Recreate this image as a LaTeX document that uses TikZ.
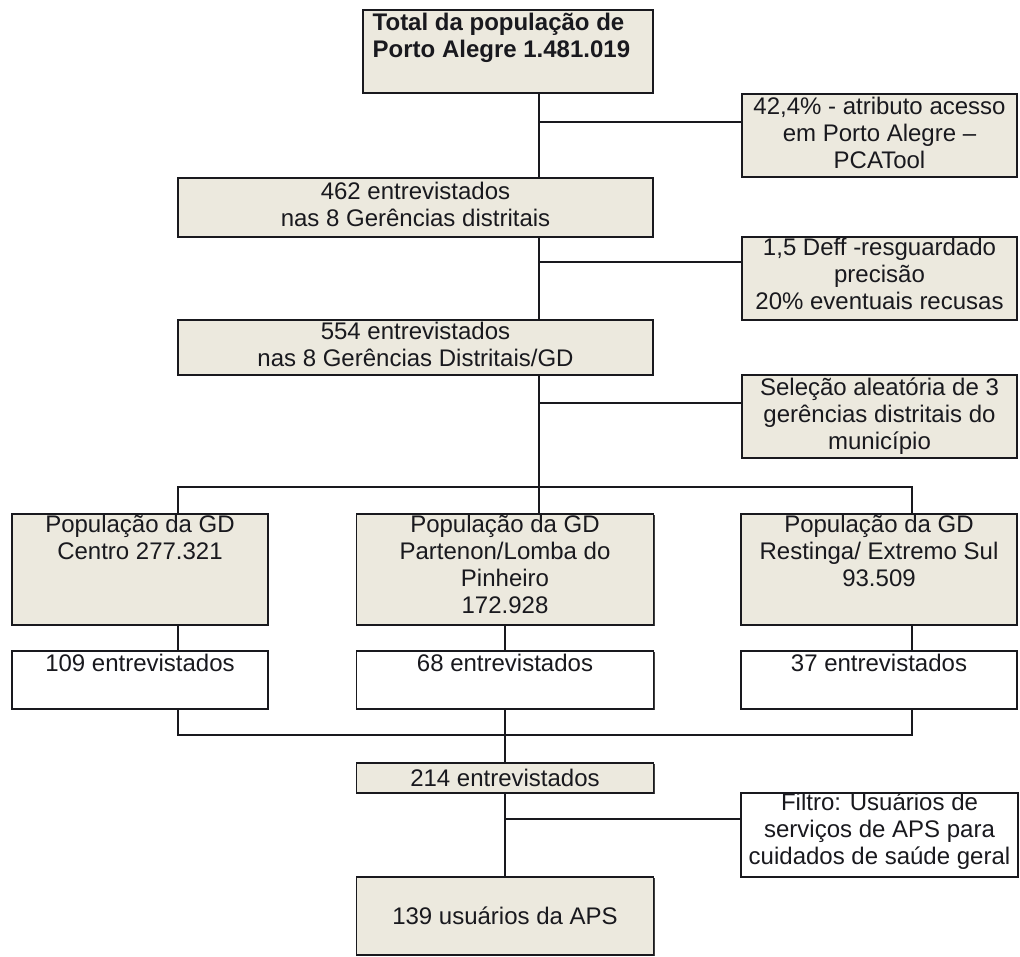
\documentclass[tikz,border=0pt]{standalone}
\usepackage{fontspec}
\setmainfont{Liberation Sans}
\usetikzlibrary{shadows}
\definecolor{boxfill}{RGB}{236,233,222}
\definecolor{ink}{RGB}{25,25,30}
\begin{document}
\begin{tikzpicture}[x=1pt,y=-1pt,
  box/.style={draw=ink, line width=1.3pt, fill=boxfill, inner sep=0pt, outer sep=0pt,
    drop shadow={shadow xshift=1.1pt, shadow yshift=-1.1pt, fill=black!75, opacity=1}},
  wbox/.style={box, fill=white},
  txt/.style={font=\fontsize{24}{27}\selectfont, text=ink, align=center, inner sep=2.5pt,
    execute at begin node={\strut}},
  conn/.style={draw=ink, line width=1.3pt}]
\useasboundingbox (0,0) rectangle (1020,956);

% boxes
\node[box, minimum width=290pt, minimum height=83pt,
  label={[txt, align=left, anchor=north west, xshift=7pt, font=\fontsize{24}{27}\selectfont\bfseries]north west:{Total da população de\\Porto Alegre 1.481.019}}]
  (top) at (508,51.5) {};
\node[box, minimum width=275pt, minimum height=83pt,
  label={[txt, anchor=north]north:{42,4\% - atributo acesso\\em Porto Alegre –\\PCATool}}]
  (acc) at (879.5,135.5) {};
\node[box, minimum width=475pt, minimum height=59pt,
  label={[txt, anchor=north, inner sep=3.5pt]north:{462 entrevistados\\nas 8 Gerências distritais}}]
  (g462) at (415.5,207.5) {};
\node[box, minimum width=275pt, minimum height=83pt,
  label={[txt, anchor=north, inner sep=1pt]north:{1,5 Deff -resguardado\\precisão\\20\% eventuais recusas}}]
  (deff) at (879.5,278.5) {};
\node[box, minimum width=475pt, minimum height=55pt,
  label={[txt, anchor=north, inner sep=1.5pt]north:{554 entrevistados\\nas 8 Gerências Distritais/GD}}]
  (g554) at (415.5,347.5) {};
\node[box, minimum width=275pt, minimum height=83pt,
  label={[txt, anchor=north]north:{Seleção aleatória de 3\\gerências distritais do\\município}}]
  (sel) at (879.5,416.5) {};

\node[box, minimum width=256pt, minimum height=111pt,
  label={[txt, anchor=north, inner sep=1pt]north:{População da GD\\Centro 277.321}}]
  (cen) at (140,569.5) {};
\node[box, minimum width=297pt, minimum height=111pt,
  label={[txt, anchor=north, inner sep=1pt]north:{População da GD\\Partenon/Lomba do\\Pinheiro\\172.928}}]
  (par) at (505,569.5) {};
\node[box, minimum width=276pt, minimum height=111pt,
  label={[txt, anchor=north, inner sep=1pt]north:{População da GD\\Restinga/ Extremo Sul\\93.509}}]
  (res) at (879,569.5) {};

\node[wbox, minimum width=256pt, minimum height=58pt,
  label={[txt, anchor=north, inner sep=1.5pt]north:{109 entrevistados}}]
  (n109) at (140,680) {};
\node[wbox, minimum width=297pt, minimum height=58pt,
  label={[txt, anchor=north, inner sep=1.5pt]north:{68 entrevistados}}]
  (n68) at (505,680) {};
\node[wbox, minimum width=276pt, minimum height=58pt,
  label={[txt, anchor=north, inner sep=1.5pt]north:{37 entrevistados}}]
  (n37) at (879,680) {};

\node[box, minimum width=297pt, minimum height=30pt,
  font=\fontsize{24}{27}\selectfont, text=ink] (n214) at (505,778) {214 entrevistados};
\node[wbox, minimum width=277pt, minimum height=84pt,
  label={[txt, anchor=north, inner sep=0pt]north:{Filtro: Usuários de\\serviços de APS para\\cuidados de saúde geral}}]
  (filt) at (879.5,835) {};
\node[box, minimum width=297pt, minimum height=78pt,
  font=\fontsize{24}{27}\selectfont, text=ink] (n139) at (505,916) {139 usuários da APS};

% connectors
\coordinate (sp) at (539,487);
\coordinate (bb) at (505,735);
\draw[conn] (top.south -| sp) -- (g462.north -| sp);
\draw[conn] (g462.south -| sp) -- (g554.north -| sp);
\draw[conn] (g554.south -| sp) -- (sp);
\draw[conn] ([yshift=13.5pt]acc.west) -- ([yshift=13.5pt]acc.west -| sp);
\draw[conn] ([yshift=16.5pt]deff.west) -- ([yshift=16.5pt]deff.west -| sp);
\draw[conn] ([yshift=13.5pt]sel.west) -- ([yshift=13.5pt]sel.west -| sp);
\draw[conn] ([xshift=38pt]cen.north) |- (sp) -| ([xshift=33pt]res.north);
\draw[conn] (sp) -- (par.north -| sp);
\draw[conn] ([xshift=38pt]cen.south) -- ([xshift=38pt]n109.north);
\draw[conn] (par.south) -- (n68.north);
\draw[conn] ([xshift=33pt]res.south) -- ([xshift=33pt]n37.north);
\draw[conn] ([xshift=38pt]n109.south) |- (bb) -| ([xshift=33pt]n37.south);
\draw[conn] (n68.south) -- (n214.north);
\draw[conn] (n214.south) -- (n139.north);
\draw[conn] ([yshift=16pt]filt.west) -- ([yshift=16pt]filt.west -| n214.south);
\end{tikzpicture}
\end{document}
